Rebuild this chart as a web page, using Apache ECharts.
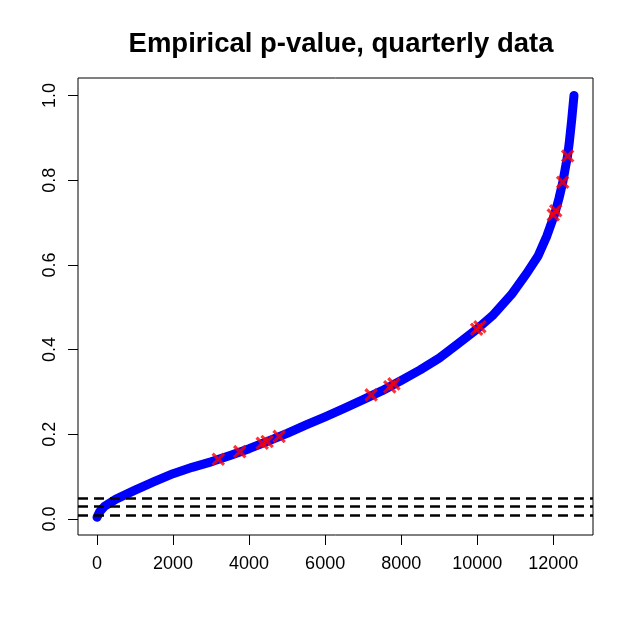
<!DOCTYPE html>
<html>
<head>
<meta charset="utf-8">
<script src="https://cdn.jsdelivr.net/npm/echarts@6/dist/echarts.min.js"></script>
<style>
  html, body { margin: 0; padding: 0; background: #fff; }
  #chart { width: 634px; height: 633px; }
</style>
</head>
<body>
<div id="chart"></div>
<script>
// sorted empirical p-values
const curveX = [0, 70, 200, 500, 1000, 1500, 2000, 2500, 3000, 3500, 4000, 4500, 5000, 5500, 6000,
  6500, 7000, 7500, 8000, 8500, 9000, 9500, 10000, 10400, 10900, 11300, 11600, 11830, 12040,
  12150, 12250, 12375, 12420, 12484, 12545];
const curveY = [0.004, 0.017, 0.030, 0.047, 0.068, 0.088, 0.107, 0.122, 0.135, 0.150, 0.166, 0.184, 0.202, 0.222, 0.241,
  0.261, 0.282, 0.303, 0.327, 0.352, 0.380, 0.414, 0.449, 0.480, 0.530, 0.580, 0.621, 0.668, 0.721,
  0.757, 0.795, 0.857, 0.888, 0.942, 1.000];

// highlighted observations (red crosses)
const markX = [3190, 3755, 4345, 4474, 4790, 7210, 7700, 7810, 9984, 10071, 12000, 12065, 12247, 12379];
const markY = [0.141, 0.159, 0.179, 0.183, 0.195, 0.293, 0.312, 0.319, 0.448, 0.454, 0.718, 0.728, 0.795, 0.857];

// significance levels (dashed lines)
const levels = [0.01, 0.025, 0.05];

const xTicks = [0, 2000, 4000, 6000, 8000, 10000, 12000];
const yTicks = [0, 0.2, 0.4, 0.6, 0.8, 1.0];

const font = 'Liberation Sans, Arial, sans-serif';
const chart = echarts.init(document.getElementById('chart'));

const option = {
  animation: false,
  title: {
    text: 'Empirical p-value, quarterly data',
    left: 336,
    textAlign: 'center',
    top: 25,
    textStyle: { fontFamily: font, fontWeight: 'bold', fontSize: 27.5, color: '#000' }
  },
  grid: {
    left: 78, right: 41, top: 78, bottom: 98,
    show: true, borderColor: '#000', borderWidth: 1
  },
  xAxis: {
    type: 'value',
    min: -500, max: 13045,
    splitLine: { show: false },
    axisLine: { show: false, onZero: false },
    axisTick: { show: true, length: 10, customValues: xTicks, lineStyle: { color: '#000' } },
    axisLabel: {
      customValues: xTicks, margin: 20,
      fontFamily: font, fontSize: 18, color: '#000',
      formatter: v => String(v)
    }
  },
  yAxis: {
    type: 'value',
    min: -0.0378, max: 1.0413,
    splitLine: { show: false },
    axisLine: { show: false, onZero: false },
    axisTick: { show: true, length: 10, customValues: yTicks, lineStyle: { color: '#000' } },
    axisLabel: {
      customValues: yTicks, margin: 19, rotate: 90,
      fontFamily: font, fontSize: 18, color: '#000',
      formatter: v => v.toFixed(1)
    }
  },
  series: [
    {
      type: 'line',
      data: curveX.map((x, i) => [x, curveY[i]]),
      showSymbol: false,
      smooth: false,
      lineStyle: { color: '#0000ff', width: 9, cap: 'round', join: 'round' },
      z: 2
    },
    {
      type: 'line',
      data: [],
      z: 3,
      markLine: {
        silent: true,
        symbol: 'none',
        label: { show: false },
        lineStyle: { color: '#000', width: 2.5, type: [10, 6] },
        data: levels.map(v => ({ yAxis: v }))
      }
    },
    {
      type: 'scatter',
      data: markX.map((x, i) => [x, markY[i]]),
      symbol: 'path://M4,0H6V4H10V6H6V10H4V6H0V4H4Z',
      symbolSize: 16,
      symbolRotate: 45,
      itemStyle: { color: '#ff0000' },
      z: 4
    }
  ]
};

chart.setOption(option);
</script>
</body>
</html>
